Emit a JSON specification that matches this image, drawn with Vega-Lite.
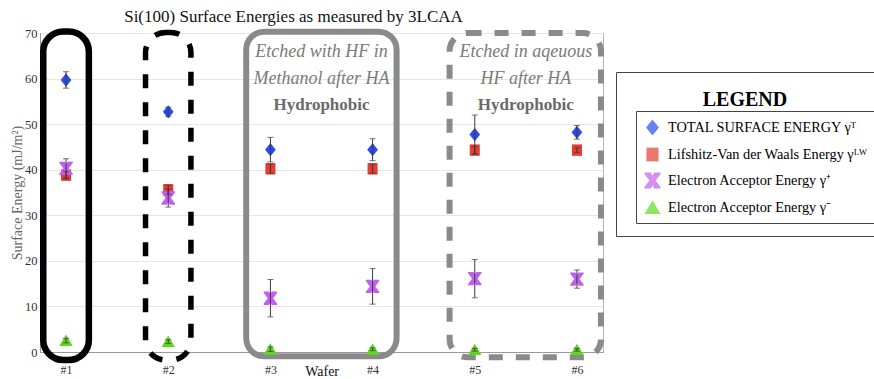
{
  "$schema": "https://vega.github.io/schema/vega-lite/v6.json",
  "width": 563,
  "height": 319,
  "autosize": {"type": "none"},
  "padding": {"left": 40, "top": 33, "right": 271, "bottom": 27},
  "background": "white",
  "config": {"view": {"stroke": "#b5b5b5"}, "font": "Liberation Serif"},
  "title": {"text": "Si(100) Surface Energies as measured by 3LCAA", "font": "Liberation Serif", "fontSize": 17, "fontWeight": "normal", "color": "#111", "anchor": "middle", "dx": -28, "offset": 1},
  "datasets": {
    "pts": [
      {"wafer": 1, "series": "TOTAL SURFACE ENERGY γᵀ", "value": 59.7, "err": 1.8},
      {"wafer": 1, "series": "Lifshitz-Van der Waals Energy γᴸᵂ", "value": 38.8, "err": 0.8},
      {"wafer": 1, "series": "Electron Acceptor Energy γ⁺", "value": 40.3, "err": 2.1},
      {"wafer": 1, "series": "Electron Acceptor Energy γ⁻", "value": 2.5, "err": 0.5},
      {"wafer": 2, "series": "TOTAL SURFACE ENERGY γᵀ", "value": 52.7, "err": 1.0},
      {"wafer": 2, "series": "Lifshitz-Van der Waals Energy γᴸᵂ", "value": 35.6, "err": 1.0},
      {"wafer": 2, "series": "Electron Acceptor Energy γ⁺", "value": 33.8, "err": 2.0},
      {"wafer": 2, "series": "Electron Acceptor Energy γ⁻", "value": 2.3, "err": 0.4},
      {"wafer": 3, "series": "TOTAL SURFACE ENERGY γᵀ", "value": 44.4, "err": 2.7},
      {"wafer": 3, "series": "Lifshitz-Van der Waals Energy γᴸᵂ", "value": 40.2, "err": 1.0},
      {"wafer": 3, "series": "Electron Acceptor Energy γ⁺", "value": 11.8, "err": 4.1},
      {"wafer": 3, "series": "Electron Acceptor Energy γ⁻", "value": 0.6, "err": 0.5},
      {"wafer": 4, "series": "TOTAL SURFACE ENERGY γᵀ", "value": 44.4, "err": 2.4},
      {"wafer": 4, "series": "Lifshitz-Van der Waals Energy γᴸᵂ", "value": 40.2, "err": 1.0},
      {"wafer": 4, "series": "Electron Acceptor Energy γ⁺", "value": 14.4, "err": 3.9},
      {"wafer": 4, "series": "Electron Acceptor Energy γ⁻", "value": 0.6, "err": 0.3},
      {"wafer": 5, "series": "TOTAL SURFACE ENERGY γᵀ", "value": 47.7, "err": 4.3},
      {"wafer": 5, "series": "Lifshitz-Van der Waals Energy γᴸᵂ", "value": 44.3, "err": 0.8},
      {"wafer": 5, "series": "Electron Acceptor Energy γ⁺", "value": 16.1, "err": 4.2},
      {"wafer": 5, "series": "Electron Acceptor Energy γ⁻", "value": 0.5, "err": 0.3},
      {"wafer": 6, "series": "TOTAL SURFACE ENERGY γᵀ", "value": 48.2, "err": 1.5},
      {"wafer": 6, "series": "Lifshitz-Van der Waals Energy γᴸᵂ", "value": 44.3, "err": 0.5},
      {"wafer": 6, "series": "Electron Acceptor Energy γ⁺", "value": 16.0, "err": 2.0},
      {"wafer": 6, "series": "Electron Acceptor Energy γ⁻", "value": 0.5, "err": 0.3}
    ]
  },
  "layer": [
    {
      "data": {"values": [{"from": 1, "to": 1}]},
      "mark": {"type": "rect", "fill": "transparent", "stroke": "#000", "strokeWidth": 6.5, "cornerRadius": 20, "xOffset": -22.8, "x2Offset": 22.8, "yOffset": -1.5, "y2Offset": 8},
      "encoding": {
        "x": {"field": "from", "type": "quantitative", "title": "Wafer", "scale": {"domain": [0.745, 6.255], "nice": false, "zero": false}},
        "x2": {"field": "to"},
        "y": {"datum": 70, "type": "quantitative", "title": "Surface Energy (mJ/m²)"},
        "y2": {"datum": 0}
      }
    },
    {
      "data": {"values": [{"from": 2, "to": 2}]},
      "mark": {"type": "rect", "fill": "transparent", "stroke": "#000", "strokeWidth": 5.5, "strokeDash": [14, 14], "cornerRadius": 20, "xOffset": -22.7, "x2Offset": 22.7, "yOffset": -0.5, "y2Offset": 8},
      "encoding": {
        "x": {"field": "from", "type": "quantitative", "title": "Wafer"},
        "x2": {"field": "to"},
        "y": {"datum": 70, "type": "quantitative", "title": "Surface Energy (mJ/m²)"},
        "y2": {"datum": 0}
      }
    },
    {
      "data": {"values": [{"from": 3, "to": 4}]},
      "mark": {"type": "rect", "fill": "transparent", "stroke": "#8a8a8a", "strokeWidth": 6, "cornerRadius": 18, "xOffset": -24.2, "x2Offset": 24, "yOffset": -1.3, "y2Offset": 4.3},
      "encoding": {
        "x": {"field": "from", "type": "quantitative", "title": "Wafer"},
        "x2": {"field": "to"},
        "y": {"datum": 70, "type": "quantitative", "title": "Surface Energy (mJ/m²)"},
        "y2": {"datum": 0}
      }
    },
    {
      "data": {"values": [{"from": 5, "to": 6}]},
      "mark": {"type": "rect", "fill": "transparent", "stroke": "#8a8a8a", "strokeWidth": 6, "strokeDash": [14, 13], "cornerRadius": 18, "xOffset": -25.2, "x2Offset": 24, "yOffset": 0, "y2Offset": 5.3},
      "encoding": {
        "x": {"field": "from", "type": "quantitative", "title": "Wafer"},
        "x2": {"field": "to"},
        "y": {"datum": 70, "type": "quantitative", "title": "Surface Energy (mJ/m²)"},
        "y2": {"datum": 0}
      }
    },
    {
      "data": {"values": [{"from": 3, "line": "Etched with HF in"}, {"from": 5, "line": "Etched in aqeuous"}]},
      "mark": {"type": "text", "font": "Liberation Serif", "fontSize": 18, "fontStyle": "italic", "color": "#7a7a7a", "xOffset": 51.1, "baseline": "middle", "align": "center"},
      "encoding": {
        "x": {"field": "from", "type": "quantitative", "title": "Wafer"},
        "y": {"datum": 65.8, "type": "quantitative", "title": "Surface Energy (mJ/m²)"},
        "text": {"field": "line"}
      }
    },
    {
      "data": {"values": [{"from": 3, "line": "Methanol after HA"}, {"from": 5, "line": "HF after HA"}]},
      "mark": {"type": "text", "font": "Liberation Serif", "fontSize": 18, "fontStyle": "italic", "color": "#7a7a7a", "xOffset": 51.1, "baseline": "middle", "align": "center"},
      "encoding": {
        "x": {"field": "from", "type": "quantitative", "title": "Wafer"},
        "y": {"datum": 60.0, "type": "quantitative", "title": "Surface Energy (mJ/m²)"},
        "text": {"field": "line"}
      }
    },
    {
      "data": {"values": [{"from": 3, "line": "Hydrophobic"}, {"from": 5, "line": "Hydrophobic"}]},
      "mark": {"type": "text", "font": "Liberation Serif", "fontSize": 17, "fontWeight": "bold", "color": "#6a6a6a", "xOffset": 51.1, "baseline": "middle", "align": "center"},
      "encoding": {
        "x": {"field": "from", "type": "quantitative", "title": "Wafer"},
        "y": {"datum": 54.3, "type": "quantitative", "title": "Surface Energy (mJ/m²)"},
        "text": {"field": "line"}
      }
    },
    {
      "data": {"name": "pts"},
      "mark": {"type": "point", "filled": true, "size": 180, "strokeWidth": 0},
      "encoding": {
        "x": {"field": "wafer", "type": "quantitative", "scale": {"domain": [0.745, 6.255], "nice": false, "zero": false},
          "axis": {"values": [1, 2, 3, 4, 5, 6], "labelExpr": "'#' + datum.value", "grid": false, "ticks": false, "domainColor": "#999", "labelFont": "Liberation Serif", "labelFontSize": 12, "labelColor": "#333", "labelPadding": 12, "labelFlush": false,
            "title": "Wafer", "titleFont": "Liberation Serif", "titleFontSize": 14, "titleFontWeight": "normal", "titleColor": "#111", "titleX": 281.6, "titleY": 19, "titleBaseline": "middle", "titleAlign": "center"}},
        "y": {"field": "value", "type": "quantitative", "scale": {"domain": [0, 70], "nice": false},
          "axis": {"values": [0, 10, 20, 30, 40, 50, 60, 70], "grid": true, "gridColor": "#e6e6e6", "ticks": false, "domainColor": "#999", "labelFont": "Liberation Serif", "labelFontSize": 12.5, "labelColor": "#333", "labelPadding": 3, "labelFlush": false, "labelOverlap": false,
            "title": "Surface Energy (mJ/m²)", "titleFont": "Liberation Serif", "titleFontSize": 14, "titleFontWeight": "normal", "titleColor": "#666", "titlePadding": 0}},
        "color": {"field": "series", "type": "nominal",
          "scale": {"domain": ["TOTAL SURFACE ENERGY γᵀ", "Lifshitz-Van der Waals Energy γᴸᵂ", "Electron Acceptor Energy γ⁺", "Electron Acceptor Energy γ⁻"], "range": ["#2a4de8", "#e53d33", "#c25ef0", "#5fd81c"]},
          "legend": {"orient": "none", "legendX": 596, "legendY": 78, "title": null, "strokeColor": "#444", "padding": 8, "symbolSize": 260, "symbolStrokeWidth": 0, "labelFont": "Liberation Serif", "labelFontSize": 14.3, "labelOffset": 7, "rowPadding": 10, "labelLimit": 300,
            "encode": {"labels": {
              "fill": {"condition": [{"test": "datum.label == 'TOTAL SURFACE ENERGY γᵀ'", "value": "#4b5be6"}, {"test": "datum.label == 'Lifshitz-Van der Waals Energy γᴸᵂ'", "value": "#e3392c"}, {"test": "datum.label == 'Electron Acceptor Energy γ⁺'", "value": "#b35ce6"}], "value": "#86c451"},
              "fontSize": {"condition": {"test": "datum.label == 'TOTAL SURFACE ENERGY γᵀ'", "value": 11}, "value": 14.3}}}}},
        "shape": {"field": "series", "type": "nominal",
          "scale": {"domain": ["TOTAL SURFACE ENERGY γᵀ", "Lifshitz-Van der Waals Energy γᴸᵂ", "Electron Acceptor Energy γ⁺", "Electron Acceptor Energy γ⁻"],
            "range": ["M0,-1L0.8,0L0,1L-0.8,0Z", "M-0.75,-0.85H0.75V0.85H-0.75Z", "M-1,-1H-0.2L0,-0.6L0.2,-1H1V-0.8L0.4,0L1,0.8V1H0.2L0,0.6L-0.2,1H-1V0.8L-0.4,0L-1,-0.8Z", "M0,-0.9L1,0.8H-1Z"]},
          "legend": {"orient": "none", "legendX": 596, "legendY": 78, "title": null, "strokeColor": "#444", "padding": 8, "symbolSize": 260, "symbolStrokeWidth": 0, "labelFont": "Liberation Serif", "labelFontSize": 14.3, "labelOffset": 7, "rowPadding": 10, "labelLimit": 300,
            "encode": {"labels": {
              "fill": {"condition": [{"test": "datum.label == 'TOTAL SURFACE ENERGY γᵀ'", "value": "#4b5be6"}, {"test": "datum.label == 'Lifshitz-Van der Waals Energy γᴸᵂ'", "value": "#e3392c"}, {"test": "datum.label == 'Electron Acceptor Energy γ⁺'", "value": "#b35ce6"}], "value": "#86c451"},
              "fontSize": {"condition": {"test": "datum.label == 'TOTAL SURFACE ENERGY γᵀ'", "value": 11}, "value": 14.3}}}}},
        "opacity": {"field": "wafer", "type": "ordinal", "scale": {"range": [1, 1]},
          "legend": {"orient": "none", "legendX": 576, "legendY": 39, "values": [1, 2], "direction": "horizontal", "columns": 2, "columnPadding": 12, "title": "LEGEND", "titleFont": "Liberation Serif", "titleFontSize": 20, "titleFontWeight": "bold", "titleColor": "#000", "titleAnchor": "middle", "titlePadding": 3, "strokeColor": "#444", "padding": 18, "symbolType": "square", "symbolSize": 11025, "symbolOffset": 0, "symbolOpacity": 0, "symbolFillColor": "transparent", "symbolStrokeColor": "transparent", "symbolStrokeWidth": 0, "labelOffset": 0, "labelExpr": "''", "labelFontSize": 1, "labelOpacity": 0}}
      }
    },
    {
      "data": {"name": "pts"},
      "mark": {"type": "errorbar", "ticks": {"size": 6, "color": "#3a3a3a", "strokeWidth": 1}, "rule": {"color": "#3a3a3a", "strokeWidth": 1}},
      "encoding": {
        "x": {"field": "wafer", "type": "quantitative", "title": "Wafer"},
        "y": {"field": "value", "type": "quantitative", "title": "Surface Energy (mJ/m²)"},
        "yError": {"field": "err"}
      }
    }
  ]
}
